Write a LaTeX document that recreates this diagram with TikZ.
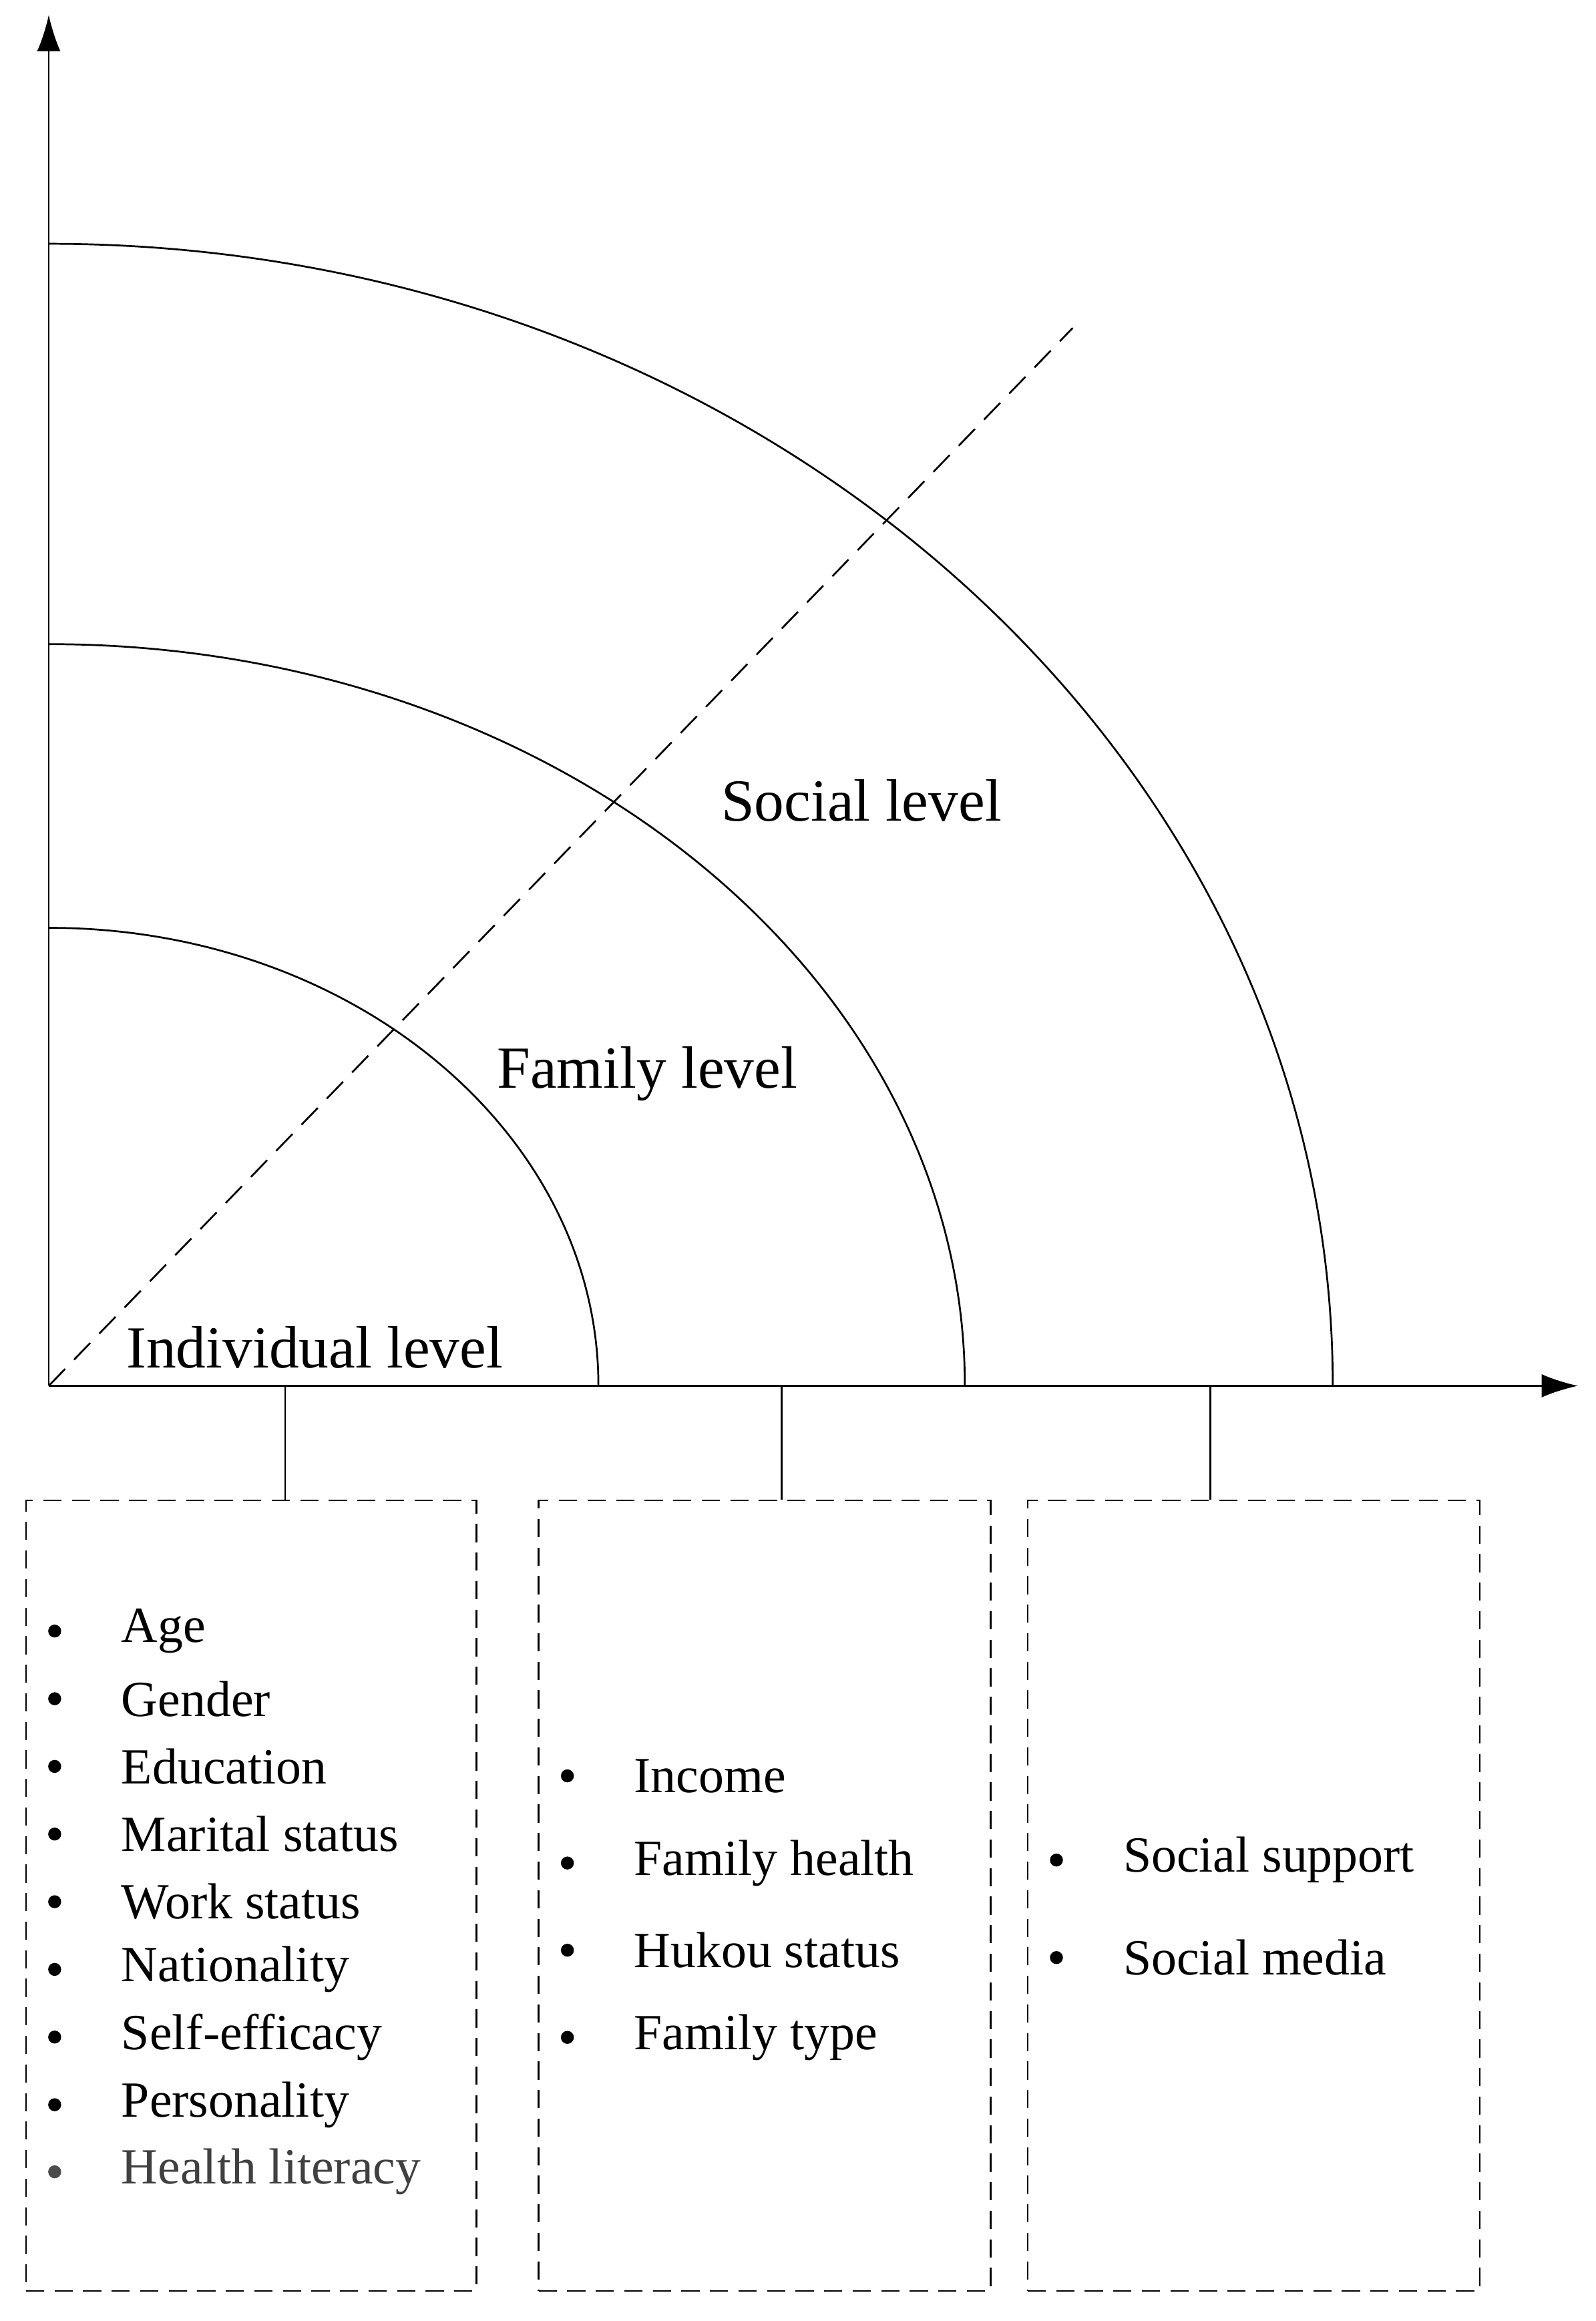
\documentclass[tikz,border=0pt]{standalone}
\usepackage{fontspec}
\setmainfont{Liberation Serif}
\usetikzlibrary{arrows.meta}
\begin{document}
\begin{tikzpicture}[x=0.02cm,y=-0.02cm,
  lvl/.style={font=\fontsize{23}{27}\selectfont},
  item/.style={anchor=west,font=\fontsize{19.5}{23}\selectfont},
  dot/.style={circle,fill=black,inner sep=0pt,minimum size=5pt},
  dbox/.style={draw,dash pattern=on 7pt off 4pt,line width=0.6pt},
  ln/.style={line width=0.7pt}]
\useasboundingbox (0,0) rectangle (1080,1571);
\coordinate (O) at (33,938);
\coordinate (Ytip) at (33,10);
\coordinate (Xtip) at (1068,938);
\draw[ln,-{Latex[length=14pt,width=9pt]}] (O) -- (Ytip);
\draw[ln,-{Latex[length=14pt,width=9pt]}] (O) -- (Xtip);
\draw[ln] (405,938) arc[start angle=0,end angle=90,x radius=372,y radius=-310];
\draw[ln] (653,938) arc[start angle=0,end angle=90,x radius=620,y radius=-502];
\draw[ln] (902,938) arc[start angle=0,end angle=90,x radius=869,y radius=-773];
\coordinate (D) at (726,222);
\draw[ln,dashed,dash pattern=on 9pt off 5pt] (O) -- (D);
\node[lvl] (soc) at (583,542) {Social level};
\node[lvl] (fam) at (438,727) {Family level};
\node[lvl] (ind) at (213,912) {Individual level};
\node[dbox,minimum width=305*0.02cm,minimum height=535*0.02cm,anchor=north west] (b1) at (17,1015) {};
\node[dbox,minimum width=306*0.02cm,minimum height=535*0.02cm,anchor=north west] (b2) at (364,1015) {};
\node[dbox,minimum width=306*0.02cm,minimum height=535*0.02cm,anchor=north west] (b3) at (695,1015) {};
\coordinate (c1) at (193,938);
\coordinate (c2) at (529,938);
\coordinate (c3) at (819,938);
\draw[ln] (c1) -- (c1 |- b1.north);
\draw[ln] (c2) -- (c2 |- b2.north);
\draw[ln] (c3) -- (c3 |- b3.north);
\foreach \t [count=\i] in {Age,Gender,Education,Marital status,Work status,Nationality,Self-efficacy,Personality}{
  \node[dot] (d1\i) at (37,{1104+45.8*(\i-1)}) {};
  \node[item] (t1\i) at (76,{1104+45.8*(\i-1)}) {\t};
}
\node[dot,fill=black!70] (d19) at (37,1470) {};
\node[item,text=black!75] (t19) at (76,1470) {Health literacy};
\foreach \t [count=\i] in {Income,Family health,Hukou status,Family type}{
  \node[dot] (d2\i) at (384,{1202+59*(\i-1)}) {};
  \node[item] (t2\i) at (423,{1202+59*(\i-1)}) {\t};
}
\foreach \t [count=\i] in {Social support,Social media}{
  \node[dot] (d3\i) at (715,{1259+66*(\i-1)}) {};
  \node[item] (t3\i) at (754,{1259+66*(\i-1)}) {\t};
}
\end{tikzpicture}
\end{document}
